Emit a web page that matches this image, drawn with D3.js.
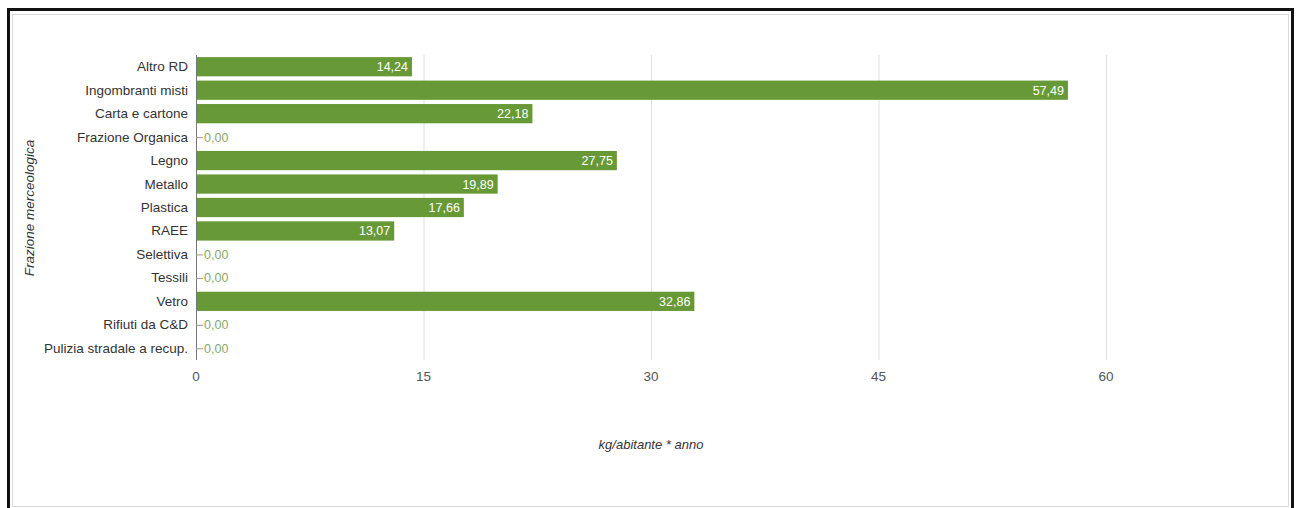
<!DOCTYPE html>
<html>
<head>
<meta charset="utf-8">
<script src="https://cdn.jsdelivr.net/npm/d3@7"></script>
<style>
  html, body { margin: 0; padding: 0; background: #fff; }
  svg { display: block; font-family: "Liberation Sans", Arial, sans-serif; }
</style>
</head>
<body>
<svg id="chart" width="1298" height="508"></svg>
<script>
const categories = ["Altro RD", "Ingombranti misti", "Carta e cartone", "Frazione Organica", "Legno", "Metallo", "Plastica", "RAEE", "Selettiva", "Tessili", "Vetro", "Rifiuti da C&D", "Pulizia stradale a recup."];
const values = [14.24, 57.49, 22.18, 0, 27.75, 19.89, 17.66, 13.07, 0, 0, 32.86, 0, 0];
const xTicks = [0, 15, 30, 45, 60];
const xTitle = "kg/abitante * anno";
const yTitle = "Frazione merceologica";

const svg = d3.select("#chart");
const fmt = v => d3.format(".2f")(v).replace(".", ",");

// frames
svg.append("rect").attr("x", 8.5).attr("y", 9.5).attr("width", 1284).attr("height", 505)
  .attr("fill", "none").attr("stroke", "#111").attr("stroke-width", 3);
svg.append("rect").attr("x", 12.5).attr("y", 14.5).attr("width", 1276).attr("height", 492)
  .attr("fill", "#fff").attr("stroke", "#d9d9d9").attr("stroke-width", 1);

const x = d3.scaleLinear().domain([0, 60]).range([196, 1106]);
const y = d3.scaleBand().domain(categories).range([55, 360]).paddingInner(0.18).paddingOuter(0.09);

// gridlines
const grid = svg.append("g").attr("transform", "translate(0,360)")
  .call(d3.axisBottom(x).tickValues(xTicks).tickSize(-305).tickFormat(""));
grid.select(".domain").remove();
grid.selectAll(".tick line").attr("stroke", "#e0e0e0").attr("stroke-width", 1);

// x tick labels
svg.selectAll(".xlab").data(xTicks).join("text")
  .attr("x", d => x(d)).attr("y", 381).attr("text-anchor", "middle")
  .attr("font-size", 13.5).attr("fill", "#555").text(d => d);

// bars
svg.selectAll(".bar").data(values).join("rect")
  .attr("x", x(0)).attr("y", (d, i) => y(categories[i]))
  .attr("width", d => x(d) - x(0)).attr("height", y.bandwidth())
  .attr("fill", "#679a36");

// axis line
svg.append("line").attr("x1", x(0) + 0.5).attr("x2", x(0) + 0.5).attr("y1", 55).attr("y2", 360)
  .attr("stroke", "#777").attr("stroke-width", 1);

// value labels
values.forEach((v, i) => {
  const cy = y(categories[i]) + y.bandwidth() / 2;
  if (v > 0) {
    svg.append("text").attr("x", x(v) - 4).attr("y", cy + 4.5).attr("text-anchor", "end")
      .attr("font-size", 12.5).attr("fill", "#fff").text(fmt(v));
  } else {
    svg.append("line").attr("x1", x(0)).attr("x2", x(0) + 7).attr("y1", cy + 0.5).attr("y2", cy + 0.5)
      .attr("stroke", "#999").attr("stroke-width", 1);
    svg.append("text").attr("x", x(0) + 8).attr("y", cy + 4.5).attr("text-anchor", "start")
      .attr("font-size", 12.5).attr("fill", "#86a96a").text(fmt(v));
  }
});

// category labels
svg.selectAll(".ylab").data(categories).join("text")
  .attr("x", 188).attr("y", d => y(d) + y.bandwidth() / 2 + 4.5)
  .attr("text-anchor", "end").attr("font-size", 13.5).attr("fill", "#333").text(d => d);

// axis titles
svg.append("text").attr("x", 651).attr("y", 449).attr("text-anchor", "middle")
  .attr("font-size", 13).attr("font-style", "italic").attr("fill", "#333").text(xTitle);
svg.append("text").attr("transform", "translate(34,208) rotate(-90)").attr("text-anchor", "middle")
  .attr("font-size", 13.5).attr("font-style", "italic").attr("fill", "#333").text(yTitle);
</script>
</body>
</html>
